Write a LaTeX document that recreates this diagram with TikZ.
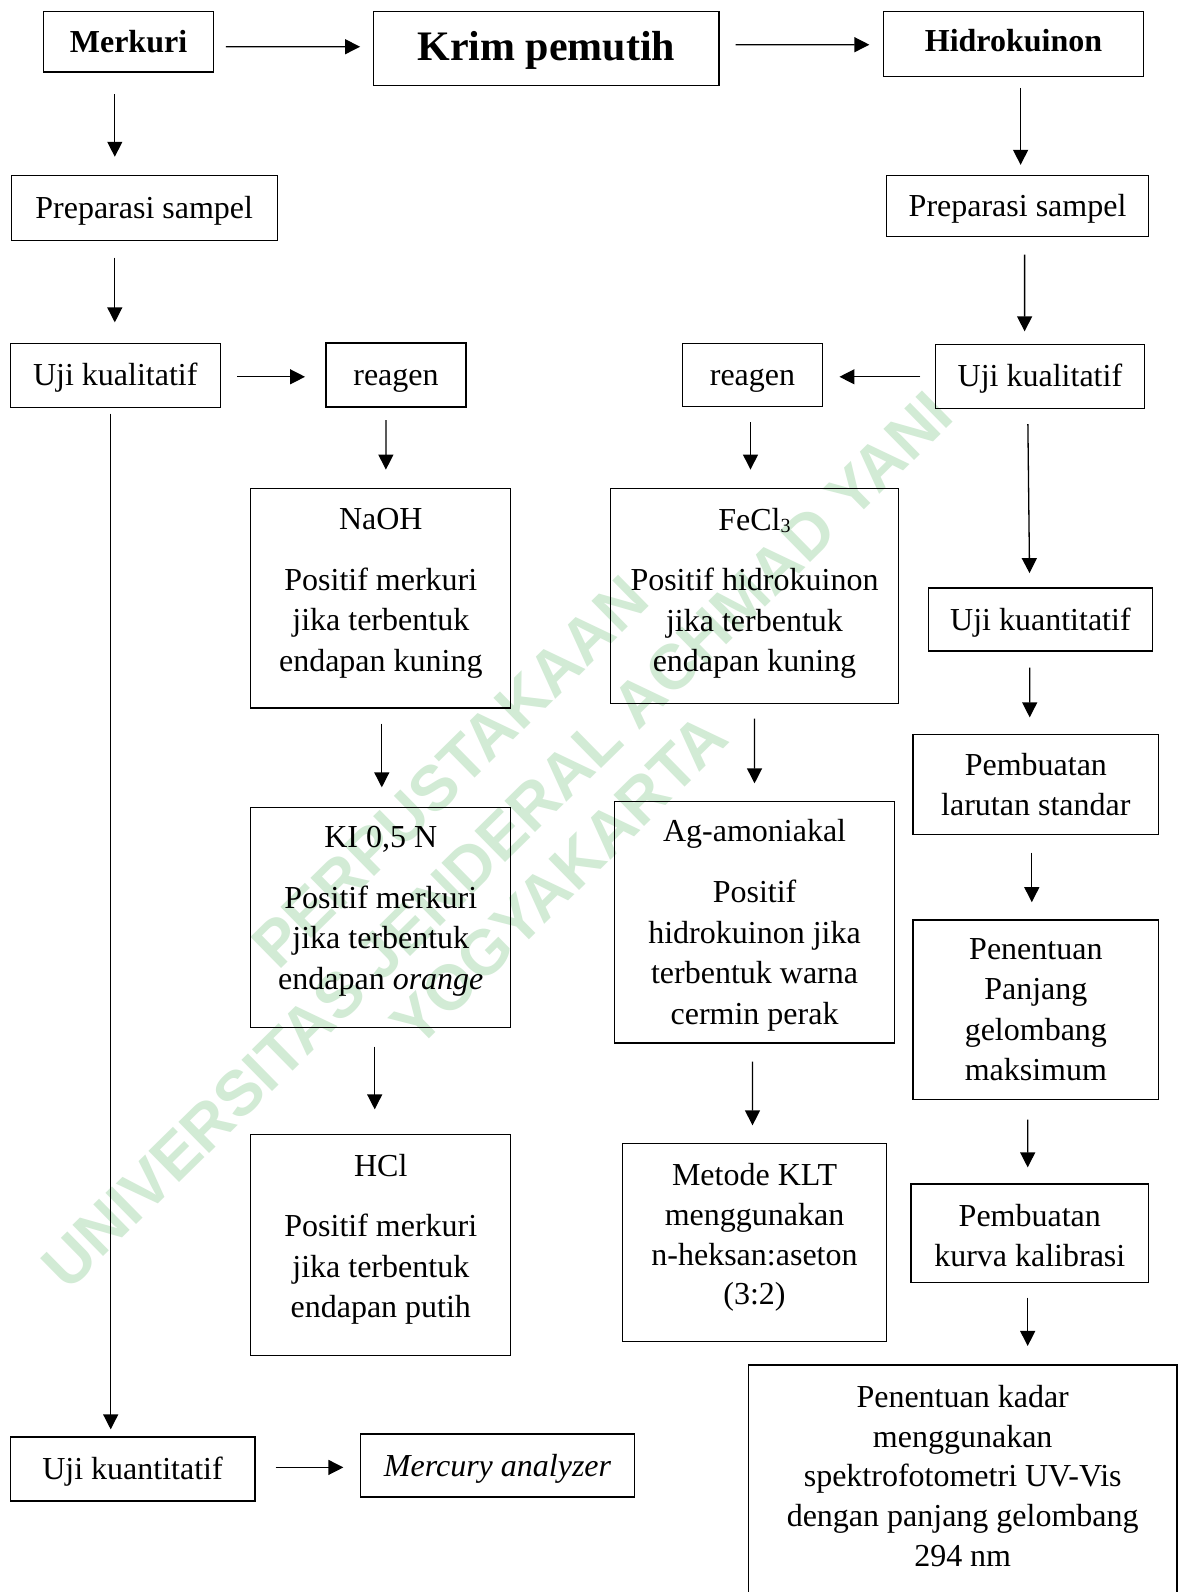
\documentclass[tikz,border=0pt]{standalone}
\usepackage{fontspec}
\setmainfont{Liberation Serif}
\newfontfamily\wmfont{Liberation Sans}
\usetikzlibrary{arrows.meta}
\definecolor{wmgreen}{RGB}{210,235,213}
\begin{document}
\begin{tikzpicture}[x=1pt,y=-1pt,
  box/.style={draw, line width=1.3pt, inner sep=0pt, align=center, font=\fontsize{32}{40.5}\selectfont, execute at begin node={\rule{0pt}{28pt}}},
  bbox/.style={draw, line width=1.3pt, inner sep=0pt, align=center},
  txt/.style={inner sep=0pt, align=center, font=\fontsize{32}{40.5}\selectfont},
  arr/.style={line width=1.3pt, -{Triangle[length=15pt,width=15pt]}},
  wm/.style={text=wmgreen, font=\wmfont\bfseries\fontsize{63.5}{70}\selectfont, rotate=44.5, inner sep=0pt}]
\useasboundingbox (0,0) rectangle (1182,1592);
\clip (0,0) rectangle (1182,1592);
\fill[white] (0,0) rectangle (1182,1592);

% watermark
\node[wm] (wm1) at (450,772) {PERPUSTAKAAN};
\node[wm] (wm2) at (497,840) {UNIVERSITAS JENDERAL ACHMAD YANI};
\node[wm] (wm3) at (559,880) {YOGYAKARTA};

% top row
\node[bbox, minimum width=169.6pt, minimum height=60.9pt, font=\bfseries\fontsize{32}{40}\selectfont] (merk) at (128.5,41.65) {Merkuri};
\node[bbox, minimum width=345.3pt, minimum height=74.1pt, font=\bfseries\fontsize{42}{50}\selectfont] (krim) at (546.35,48.25) {\rule{0pt}{33pt}Krim pemutih};
\node[bbox, minimum width=260pt, minimum height=65pt, font=\bfseries\fontsize{32}{40}\selectfont] (hidro) at (1013.5,43.7) {\rule[-6pt]{0pt}{6pt}Hidrokuinon};

% left column
\node[box, minimum width=266pt, minimum height=65pt] (prepL) at (144.2,208.2) {Preparasi sampel};
\node[box, minimum width=210.2pt, minimum height=64pt] (ujiL) at (115.3,375.2) {Uji kualitatif};
\node[box, minimum width=140pt, minimum height=64pt] (reagL) at (396,375) {reagen};
\node[box, minimum width=260pt, minimum height=219.3pt] (naoh) at (380.8,598.2) {};
\node[txt] (naohT) at (380.8,593.5) {NaOH\\[20pt]Positif merkuri\\jika terbentuk\\endapan kuning};
\node[box, minimum width=260pt, minimum height=220.4pt] (ki) at (380.8,917.5) {};
\node[txt] (kiT) at (380.8,911.5) {KI 0,5 N\\[20pt]Positif merkuri\\jika terbentuk\\endapan \textit{orange}};
\node[box, minimum width=260pt, minimum height=221.4pt] (hcl) at (380.8,1245) {};
\node[txt] (hclT) at (380.8,1239.5) {HCl\\[20pt]Positif merkuri\\jika terbentuk\\endapan putih};
\node[box, minimum width=244.7pt, minimum height=64pt] (ujikL) at (132.55,1469) {Uji kuantitatif};
\node[box, minimum width=274.2pt, minimum height=63pt] (merc) at (497.6,1465.5) {\textit{Mercury analyzer}};

% right part
\node[box, minimum width=262.1pt, minimum height=60.9pt] (prepR) at (1017.55,206.15) {Preparasi sampel};
\node[box, minimum width=209.2pt, minimum height=63.9pt] (ujiR) at (1039.9,376.25) {Uji kualitatif};
\node[box, minimum width=140.2pt, minimum height=63pt] (reagR) at (752.5,374.7) {reagen};
\node[box, minimum width=288.4pt, minimum height=215.2pt] (fecl) at (754.5,596.1) {};
\node[txt] (feclT) at (754.5,593.5) {FeCl\raisebox{-2pt}{\fontsize{20}{20}\selectfont 3}\\[20pt]Positif hidrokuinon\\jika terbentuk\\endapan kuning};
\node[box, minimum width=280.3pt, minimum height=241.8pt] (ag) at (754.55,922.1) {};
\node[txt] (agT) at (754.55,925) {Ag-amoniakal\\[21pt]Positif\\hidrokuinon jika\\terbentuk warna\\cermin perak};
\node[box, minimum width=264pt, minimum height=198pt] (klt) at (754.5,1242.5) {};
\node[txt, font=\fontsize{32}{39.6}\selectfont] (kltT) at (754.5,1237.5) {Metode KLT\\menggunakan\\n-heksan:aseton\\(3:2)};
\node[box, minimum width=224.4pt, minimum height=63pt] (ujikR) at (1040.4,619.5) {Uji kuantitatif};
\node[box, minimum width=245.7pt, minimum height=100.5pt] (larut) at (1035.85,784.45) {Pembuatan\\larutan standar};
\node[box, minimum width=245.7pt, minimum height=179.8pt] (pan) at (1035.85,1009.9) {Penentuan\\Panjang\\gelombang\\maksimum};
\node[box, minimum width=237.6pt, minimum height=98.6pt] (kurva) at (1029.8,1233.3) {};
\node[txt] (kurvaT) at (1029.8,1235.5) {Pembuatan\\kurva kalibrasi};
\node[box, minimum width=428.6pt, minimum height=260pt] (kadar) at (962.7,1495) {};
\node[txt, font=\fontsize{32}{39.6}\selectfont] (kadarT) at (962.7,1476) {Penentuan kadar\\menggunakan\\spektrofotometri UV-Vis\\dengan panjang gelombang\\294 nm};

% connectors
\draw[arr, shorten <=12pt, shorten >=13pt] ([yshift=-5pt]merk.east) -- ([yshift=1.5pt]krim.west);
\draw[arr, shorten <=16pt, shorten >=13.5pt] ([yshift=3.5pt]krim.east) -- ([yshift=-1pt]hidro.west);
\draw[arr, shorten <=21.3pt, shorten >=18.3pt] ([xshift=-13.7pt]merk.south) -- ([xshift=-29.4pt]prepL.north);
\draw[arr, shorten <=16.3pt, shorten >=20.2pt] ([xshift=-29.4pt]prepL.south) -- ([xshift=-0.5pt]ujiL.north);
\draw[arr, shorten <=16.2pt, shorten >=20.3pt] ([yshift=-1.6pt]ujiL.east) -- ([yshift=-1.8pt]reagL.west);
\draw[arr, shorten <=12.4pt, shorten >=18.3pt] ([xshift=-10.1pt]reagL.south) -- ([xshift=5.1pt]naoh.north);
\draw[arr, shorten <=15.2pt, shorten >=19.3pt] ([xshift=1pt]naoh.south) -- ([xshift=1pt]ki.north);
\draw[arr, shorten <=18.3pt, shorten >=24.3pt] ([xshift=-6.1pt]ki.south) -- ([xshift=-6.1pt]hcl.north);
\draw[arr, shorten <=5.8pt, shorten >=7pt] ([xshift=-4.6pt]ujiL.south) -- ([xshift=-21.85pt]ujikL.north);
\draw[arr, shorten <=20.1pt, shorten >=16.5pt] ([yshift=1.6pt]ujikL.east) -- ([yshift=-1.9pt]merc.west);

\draw[arr, shorten <=11.1pt, shorten >=10.2pt] ([xshift=7.1pt]hidro.south) -- ([xshift=3.05pt]prepR.north);
\draw[arr, shorten <=17.4pt, shorten >=12.3pt] ([xshift=7.05pt]prepR.south) -- ([xshift=-15.3pt]ujiR.north);
\draw[arr, shorten <=14.3pt, shorten >=16.2pt] ([yshift=-0.55pt]ujiR.west) -- ([yshift=-2.1pt]reagR.east);
\draw[arr, shorten <=15.2pt, shorten >=18.3pt] ([xshift=-2pt]reagR.south) -- ([xshift=-4pt]fecl.north);
\draw[arr, shorten <=14.3pt, shorten >=17.2pt] (fecl.south) -- (ag.north);
\draw[arr, shorten <=18pt, shorten >=17.5pt] ([xshift=-2pt]ag.south) -- ([xshift=-2pt]klt.north);
\draw[arr, shorten <=15.3pt, shorten >=14.2pt] ([xshift=-12.2pt]ujiR.south) -- ([xshift=-10.7pt]ujikR.north);
\draw[arr, shorten <=16pt, shorten >=16.2pt] ([xshift=-10.7pt]ujikR.south) -- ([xshift=-6.15pt]larut.north);
\draw[arr, shorten <=17.3pt, shorten >=17.2pt] ([xshift=-4.05pt]larut.south) -- ([xshift=-4.05pt]pan.north);
\draw[arr, shorten <=19.2pt, shorten >=16pt] ([xshift=-8.15pt]pan.south) -- ([xshift=-2.1pt]kurva.north);
\draw[arr, shorten <=14.4pt, shorten >=18.4pt] ([xshift=-2.1pt]kurva.south) -- ([xshift=65pt]kadar.north);
\end{tikzpicture}
\end{document}
